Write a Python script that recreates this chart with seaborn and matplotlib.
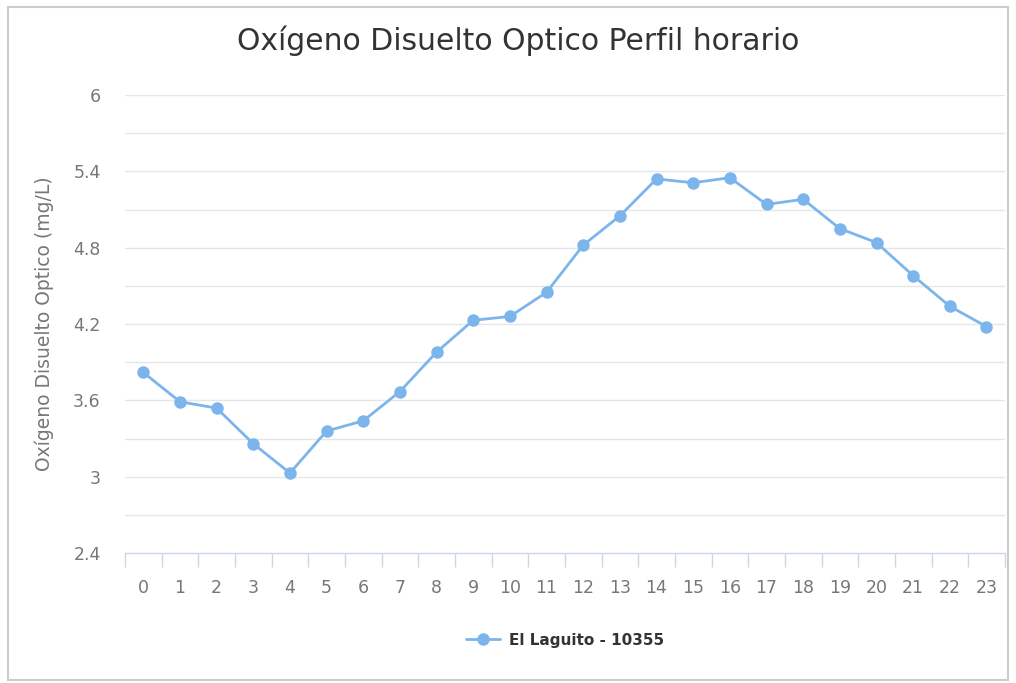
import numpy as np
import pandas as pd
import matplotlib
matplotlib.use('Agg')
import matplotlib.pyplot as plt
import seaborn as sns
from matplotlib.patches import Rectangle

# Data
hours = list(range(24))
oxygen = [3.82, 3.59, 3.54, 3.26, 3.03, 3.36, 3.44, 3.67, 3.98, 4.23, 4.26, 4.45,
          4.82, 5.05, 5.34, 5.31, 5.35, 5.14, 5.18, 4.95, 4.84, 4.58, 4.34, 4.18]
series_name = 'El Laguito - 10355'
y_ticks = [2.4, 3, 3.6, 4.2, 4.8, 5.4, 6]
y_tick_labels = ['2.4', '3', '3.6', '4.2', '4.8', '5.4', '6']

df = pd.DataFrame({'hora': hours, 'valor': oxygen, 'serie': series_name})

sns.set_style('white')
plt.rcParams['font.family'] = ['DejaVu Sans']

line_color = '#7cb5ec'
text_gray = '#777777'

fig = plt.figure(figsize=(10.16, 6.83), dpi=100)
ax = fig.add_axes([0.123, 0.19, 0.866, 0.671])

sns.lineplot(data=df, x='hora', y='valor', hue='serie', palette=[line_color],
             marker='o', markersize=9, markeredgewidth=0, linewidth=2,
             ax=ax, zorder=3)

ax.set_xlim(-0.5, 23.5)
ax.set_ylim(2.4, 6)

# grid every 0.3, labels every 0.6
for v in np.arange(2.7, 6.01, 0.3):
    ax.axhline(v, color='#e6e6e6', lw=1, zorder=1)
ax.set_yticks(y_ticks)
ax.set_yticklabels(y_tick_labels)
ax.set_xticks(hours)
ax.set_xticklabels([str(h) for h in hours])
ax.set_xticks(np.arange(-0.5, 24, 1), minor=True)
ax.tick_params(axis='x', which='major', bottom=False, pad=15, labelsize=12.5, colors=text_gray)
ax.tick_params(axis='x', which='minor', bottom=True, length=10, width=1,
               color='#ccd6eb', direction='out')
ax.tick_params(axis='y', left=False, pad=14, labelsize=12.5, colors=text_gray)

for side in ['top', 'right', 'left']:
    ax.spines[side].set_visible(False)
ax.spines['bottom'].set_color('#ccd6eb')
ax.spines['bottom'].set_linewidth(1)

ax.set_xlabel('')
ax.set_ylabel('Oxígeno Disuelto Optico (mg/L)', fontsize=13.5, color=text_gray, labelpad=14)

fig.text(0.51, 0.94, 'Oxígeno Disuelto Optico Perfil horario', ha='center', va='center',
         fontsize=21.5, color='#333333')

ax.legend(loc='center', bbox_to_anchor=(0.5, -0.19), frameon=False,
          prop={'weight': 'bold', 'size': 11}, handlelength=2.2, handletextpad=0.6)
for t in ax.get_legend().get_texts():
    t.set_color('#333333')

# light frame around the whole chart
fig.patches.append(Rectangle((0.008, 0.005), 0.984, 0.985, transform=fig.transFigure,
                             fill=False, edgecolor='#cccccc', lw=1.5))

fig.savefig('out.png', dpi=100)
